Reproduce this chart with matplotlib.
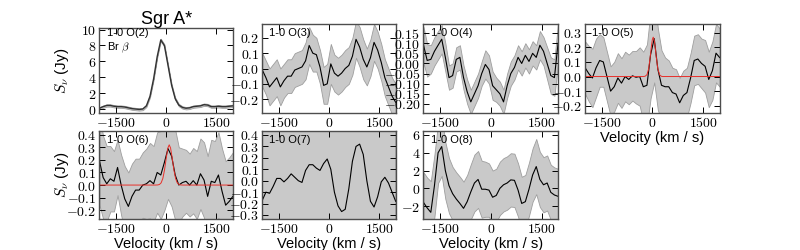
import numpy as np
import matplotlib
matplotlib.use('Agg')
import matplotlib.pyplot as plt
from matplotlib.ticker import FuncFormatter

plt.rcParams['font.family'] = ['Liberation Sans', 'DejaVu Sans']
plt.rcParams['mathtext.fontset'] = 'cm'

# velocity channels (km/s)
vel = np.linspace(-1990, 1990, 38)

flux_o2 = [0.1, 0.3, 0.45, 0.45, 0.35, 0.3, 0.3, 0.25, 0.15, 0.05, 0.0, -0.05, 0.0, 0.4, 1.6, 3.8, 6.6, 8.7, 8.0,
           5.5, 3.0, 1.3, 0.5, 0.2, 0.1, 0.15, 0.3, 0.35, 0.4, 0.55, 0.5, 0.3, 0.3, 0.35, 0.3, 0.3, 0.35, 0.4]
err_o2 = [0.15, 0.15, 0.15, 0.15, 0.15, 0.15, 0.15, 0.15, 0.15, 0.15, 0.15, 0.15, 0.15, 0.15, 0.15, 0.15, 0.15,
          0.15, 0.15, 0.15, 0.15, 0.15, 0.15, 0.15, 0.15, 0.15, 0.15, 0.15, 0.15, 0.15, 0.15, 0.15, 0.15, 0.15,
          0.15, 0.15, 0.15, 0.15]

flux_o3 = [-0.01, -0.06, -0.12, -0.09, -0.06, -0.12, -0.08, -0.05, -0.05, -0.01, 0.0, 0.01, 0.05, 0.15, 0.10,
           0.09, 0.01, -0.11, -0.10, 0.03, -0.03, -0.05, -0.03, 0.0, 0.02, 0.08, 0.19, 0.14, 0.06, 0.01, 0.07,
           0.17, 0.12, 0.04, -0.06, -0.12, -0.18, -0.22]
err_o3 = [0.11, 0.11, 0.12, 0.12, 0.12, 0.12, 0.11, 0.11, 0.11, 0.11, 0.11, 0.11, 0.12, 0.12, 0.12, 0.11, 0.11,
          0.12, 0.13, 0.13, 0.12, 0.12, 0.12, 0.12, 0.12, 0.12, 0.12, 0.13, 0.13, 0.12, 0.12, 0.12, 0.12, 0.12,
          0.12, 0.12, 0.12, 0.12]

flux_o4 = [0.09, 0.015, 0.02, 0.06, 0.09, 0.12, 0.03, -0.07, -0.06, 0.02, 0.03, -0.07, -0.14, -0.19, -0.15,
           -0.11, -0.05, -0.005, -0.03, -0.11, -0.13, -0.15, -0.19, -0.11, -0.05, -0.02, 0.03, 0.0, 0.04, 0.01,
           0.05, 0.03, 0.09, 0.06, 0.0, -0.06, -0.07, 0.10]
err_o4 = [0.09, 0.08, 0.07, 0.07, 0.07, 0.07, 0.07, 0.06, 0.06, 0.06, 0.06, 0.06, 0.06, 0.06, 0.06, 0.06, 0.06,
          0.07, 0.07, 0.07, 0.06, 0.06, 0.06, 0.06, 0.06, 0.06, 0.06, 0.06, 0.06, 0.06, 0.06, 0.06, 0.07, 0.07,
          0.08, 0.09, 0.09, 0.10]

flux_o5 = [0.06, 0.02, -0.01, 0.06, 0.11, 0.10, 0.0, -0.10, -0.07, -0.01, -0.045, 0.0, -0.02, 0.005, -0.005,
           0.0, -0.07, -0.06, 0.15, 0.26, 0.05, -0.06, -0.07, -0.07, -0.11, -0.12, -0.18, -0.13, -0.11, -0.01,
           0.11, 0.12, 0.09, 0.07, -0.02, 0.04, 0.16, 0.13]
err_o5 = [0.18, 0.19, 0.2, 0.2, 0.18, 0.17, 0.17, 0.17, 0.17, 0.17, 0.17, 0.17, 0.17, 0.17, 0.18, 0.2, 0.24,
          0.28, 0.3, 0.3, 0.28, 0.24, 0.2, 0.18, 0.17, 0.17, 0.17, 0.17, 0.17, 0.17, 0.17, 0.17, 0.17, 0.18,
          0.19, 0.2, 0.2, 0.2]
model_v_o5 = [-2000, -270, -215, -160, -110, -55, -25, 0, 25, 55, 85, 110, 160, 215, 270, 320, 2000]
model_o5 = [0, 0, 0.002, 0.013, 0.053, 0.153, 0.216, 0.255, 0.27, 0.249, 0.196, 0.142, 0.053, 0.011, 0.001, 0, 0]

flux_o6 = [0.19, 0.06, 0.01, 0.05, 0.03, 0.14, 0.0, -0.11, -0.17, -0.09, -0.04, -0.04, 0.0, 0.01, 0.035, 0.01,
           0.10, 0.08, 0.18, 0.29, 0.23, 0.08, 0.0, 0.02, 0.03, 0.0, 0.035, 0.0, 0.09, 0.04, -0.09, 0.03, 0.02,
           0.08, -0.05, -0.16, -0.13, -0.09]
err_o6 = [0.35, 0.33, 0.3, 0.26, 0.24, 0.22, 0.24, 0.26, 0.27, 0.26, 0.25, 0.25, 0.26, 0.28, 0.3, 0.3, 0.32,
          0.35, 0.38, 0.4, 0.4, 0.36, 0.3, 0.27, 0.25, 0.25, 0.26, 0.27, 0.28, 0.3, 0.32, 0.33, 0.33, 0.34,
          0.34, 0.35, 0.35, 0.35]
model_v_o6 = [-2000, -320, -250, -200, -150, -100, -50, 0, 50, 90, 130, 180, 230, 280, 330, 380, 430, 500, 2000]
model_o6 = [0, 0, 0.001, 0.005, 0.018, 0.053, 0.12, 0.213, 0.295, 0.32, 0.295, 0.213, 0.12, 0.053, 0.018, 0.005,
            0.001, 0, 0]

flux_o7 = [-0.17, -0.10, -0.11, -0.05, 0.02, 0.02, -0.01, 0.02, 0.06, 0.03, 0.0, -0.015, 0.09, 0.14, 0.14, 0.11,
           0.09, 0.15, 0.19, 0.10, -0.10, -0.22, -0.27, -0.25, -0.07, 0.17, 0.30, 0.32, 0.23, 0.0, -0.18, -0.23,
           -0.14, -0.01, 0.03, -0.02, -0.10, -0.18]
err_o7 = [1.0, 1.0, 1.0, 1.0, 1.0, 1.0, 1.0, 1.0, 1.0, 1.0, 1.0, 1.0, 1.0, 1.0, 1.0, 1.0, 1.0, 1.0, 1.0,
          1.0, 1.0, 1.0, 1.0, 1.0, 1.0, 1.0, 1.0, 1.0, 1.0, 1.0, 1.0, 1.0, 1.0, 1.0, 1.0, 1.0, 1.0, 1.0]

flux_o8 = [-1.6, -2.2, -2.7, 0.3, 4.0, 4.7, 2.0, 0.3, -0.6, -1.2, -1.7, -2.25, -1.5, -0.4, 0.6, 1.0, -0.1, -0.1,
           -0.2, -1.0, -0.8, 0.0, 0.4, 0.6, 0.95, 0.9, -0.2, -1.7, -1.5, -0.1, 1.5, 2.45, 1.0, 0.4, 0.6, -0.45,
           -0.75, -0.9]
err_o8 = [3.4, 3.4, 3.5, 3.5, 3.4, 3.3, 3.2, 3.1, 3.0, 3.0, 3.0, 3.0, 3.0, 3.1, 3.2, 3.2, 3.2, 3.1, 3.0, 3.0,
          3.0, 3.0, 3.0, 3.0, 3.0, 3.0, 3.0, 3.0, 3.0, 3.0, 3.0, 3.1, 3.1, 3.1, 3.1, 3.1, 3.1, 3.1]

line_names = ['1-0 O(2)', '1-0 O(3)', '1-0 O(4)', '1-0 O(5)', '1-0 O(6)', '1-0 O(7)', '1-0 O(8)']
xticks = [-1500, 0, 1500]
yticks = [[0, 2, 4, 6, 8, 10],
          [-0.2, -0.1, 0.0, 0.1, 0.2],
          [-0.20, -0.15, -0.10, -0.05, 0.0, 0.05, 0.10, 0.15],
          [-0.2, -0.1, 0.0, 0.1, 0.2, 0.3],
          [-0.2, -0.1, 0.0, 0.1, 0.2, 0.3, 0.4],
          [-0.3, -0.2, -0.1, 0.0, 0.1, 0.2, 0.3, 0.4],
          [-2, 0, 2, 4, 6]]
ydec = [0, 1, 2, 1, 1, 1, 0]
ylims = [(-0.5, 10.2), (-0.29, 0.29), (-0.245, 0.195), (-0.25, 0.36), (-0.27, 0.43), (-0.335, 0.435),
         (-3.45, 6.45)]

fluxes = [flux_o2, flux_o3, flux_o4, flux_o5, flux_o6, flux_o7, flux_o8]
errs = [err_o2, err_o3, err_o4, err_o5, err_o6, err_o7, err_o8]
models = {3: (model_v_o5, model_o5), 4: (model_v_o6, model_o6)}

# axes boxes in figure fraction [left, bottom, width, height]
boxes = [[0.124, 0.548, 0.1675, 0.340],
         [0.3275, 0.548, 0.1675, 0.356],
         [0.529, 0.548, 0.169, 0.356],
         [0.731, 0.548, 0.169, 0.356],
         [0.124, 0.124, 0.1675, 0.352],
         [0.3275, 0.124, 0.1675, 0.352],
         [0.529, 0.124, 0.169, 0.352]]


def mathfmt(d):
    def f(x, pos):
        if abs(x) < 1e-9:
            x = 0.0
        return '$%s$' % ('%.*f' % (d, x))
    return FuncFormatter(f)


fig = plt.figure(figsize=(8, 2.5), dpi=100)
for i in range(7):
    ax = fig.add_axes(boxes[i])
    f = np.array(fluxes[i])
    e = np.array(errs[i])
    ax.fill_between(vel, f - e, f + e, facecolor='0.79', edgecolor='0.62', linewidth=0.6)
    if i == 0:
        ax.plot(vel, f, color='0.2', lw=1.0)
    else:
        ax.plot(vel, f, color='k', lw=0.8)
    if i in models:
        mv, mf = models[i]
        ax.plot(mv, mf, color='#e8302a', lw=0.7)
    ax.set_xlim(-2000, 2000)
    ax.set_ylim(*ylims[i])
    ax.set_xticks(xticks)
    ax.set_yticks(yticks[i])
    ax.xaxis.set_major_formatter(mathfmt(0))
    ax.yaxis.set_major_formatter(mathfmt(ydec[i]))
    ax.tick_params(direction='in', top=True, right=True, length=4, width=0.7, labelsize=10, pad=2)
    for s in ax.spines.values():
        s.set_color('0.3')
        s.set_linewidth(1.0)
    ty = 0.94 if i == 0 else 0.9
    ax.text(0.055, ty, line_names[i], transform=ax.transAxes, ha='left', va='center', fontsize=8)
    if i == 0:
        ax.text(0.055, 0.77, r'Br $\beta$', transform=ax.transAxes, ha='left', va='center', fontsize=8)
        ax.set_title('Sgr A*', fontsize=13, pad=3)
    if i in (0, 4):
        ax.set_ylabel(r'$S_\nu$ (Jy)', fontsize=11)
        ax.yaxis.set_label_coords(-0.21, 0.5)
    if i in (3, 4, 5, 6):
        ax.set_xlabel('Velocity (km / s)', fontsize=10.5, labelpad=1)

fig.savefig('out.png', dpi=100)
